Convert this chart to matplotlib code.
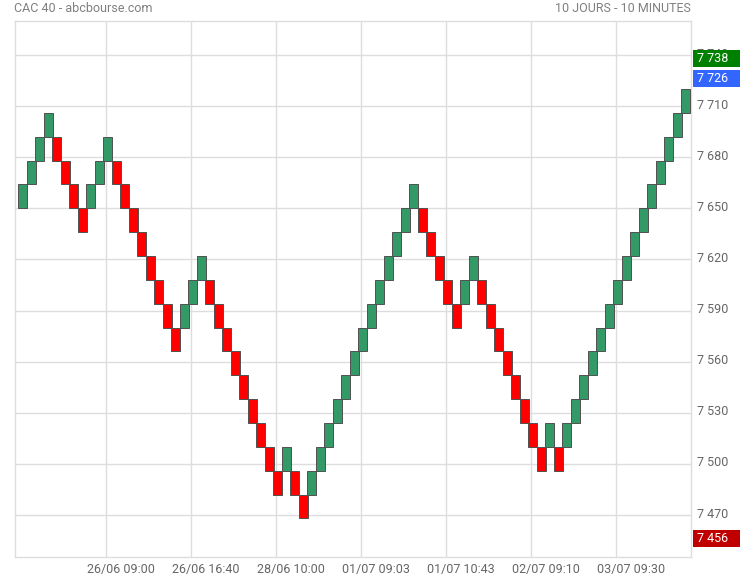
import matplotlib
matplotlib.use("Agg")
import matplotlib.pyplot as plt
from matplotlib.patches import Rectangle
from matplotlib.transforms import blended_transform_factory, ScaledTranslation

plt.rcParams['font.family'] = ['Roboto', 'DejaVu Sans']

# ---- data ----
brick_size = 14
brick_low = [7650, 7664, 7678, 7692, 7678, 7664, 7650, 7636, 7650, 7664,
             7678, 7664, 7650, 7636, 7622, 7608, 7594, 7580, 7566, 7580,
             7594, 7608, 7594, 7580, 7566, 7552, 7538, 7524, 7510, 7496,
             7482, 7496, 7482, 7468, 7482, 7496, 7510, 7524, 7538, 7552,
             7566, 7580, 7594, 7608, 7622, 7636, 7650, 7636, 7622, 7608,
             7594, 7580, 7594, 7608, 7594, 7580, 7566, 7552, 7538, 7524,
             7510, 7496, 7510, 7496, 7510, 7524, 7538, 7552, 7566, 7580,
             7594, 7608, 7622, 7636, 7650, 7664, 7678, 7692, 7706]
brick_dir = ['U', 'U', 'U', 'U', 'D', 'D', 'D', 'D', 'U', 'U',
             'U', 'D', 'D', 'D', 'D', 'D', 'D', 'D', 'D', 'U',
             'U', 'U', 'D', 'D', 'D', 'D', 'D', 'D', 'D', 'D',
             'D', 'U', 'D', 'D', 'U', 'U', 'U', 'U', 'U', 'U',
             'U', 'U', 'U', 'U', 'U', 'U', 'U', 'D', 'D', 'D',
             'D', 'D', 'U', 'U', 'D', 'D', 'D', 'D', 'D', 'D',
             'D', 'D', 'U', 'D', 'U', 'U', 'U', 'U', 'U', 'U',
             'U', 'U', 'U', 'U', 'U', 'U', 'U', 'U', 'U']
y_ticks = [7470, 7500, 7530, 7560, 7590, 7620, 7650, 7680, 7710, 7740]
x_tick_pos = [9.85, 19.85, 29.85, 39.85, 49.85, 59.85, 69.85]
x_tick_labels = ['26/06 09:00', '26/06 16:40', '28/06 10:00', '01/07 09:03',
                 '01/07 10:43', '02/07 09:10', '03/07 09:30']
price_high = 7738
price_last = 7726
price_low = 7456
title_left = 'CAC 40 - abcbourse.com'
title_right = '10 JOURS - 10 MINUTES'

# ---- figure ----
W, H = 740, 580
fig = plt.figure(figsize=(W / 100, H / 100), dpi=100)
ax = fig.add_axes([14.5 / W, 1 - 557 / H, (691 - 14.5) / W, (557 - 21) / H])

GREEN = '#339966'
RED = '#ff0000'
for i, (lo, d) in enumerate(zip(brick_low, brick_dir)):
    ax.add_patch(Rectangle((i - 0.53, lo), 1.06, brick_size,
                           facecolor=GREEN if d == 'U' else RED,
                           edgecolor='#505050', linewidth=0.7, zorder=3))

ax.set_xlim(-0.965, 78.62)
ax.set_ylim(7445.35, 7759.96)

ax.set_yticks(y_ticks)
ax.set_yticklabels([f"{v // 1000} {v % 1000:03d}" for v in y_ticks])
ax.yaxis.tick_right()
ax.tick_params(axis='y', length=0, pad=4, labelsize=9, labelcolor='#666666')
up = ScaledTranslation(0, 2.5 / 100, fig.dpi_scale_trans)
for lab in ax.get_yticklabels():
    lab.set_transform(lab.get_transform() + up)
ax.set_xticks(x_tick_pos)
ax.set_xticklabels([])
ax.tick_params(axis='x', length=0)
ax.grid(True, color='#dddddd', linewidth=1, zorder=0)
ax.set_axisbelow(True)
for s in ax.spines.values():
    s.set_color('#dddddd')
    s.set_linewidth(1)

# x labels offset right of gridlines
off = ScaledTranslation(14.3 / 100, 0, fig.dpi_scale_trans)
tr = blended_transform_factory(ax.transData, fig.transFigure) + off
for xp, lab in zip(x_tick_pos, x_tick_labels):
    ax.text(xp, 1 - 570 / H, lab, transform=tr, ha='center', va='center',
            fontsize=9, color='#666666', clip_on=False)

fig.text(14 / W, 1 - 9 / H, title_left, ha='left', va='center',
         fontsize=9, color='#808080')
fig.text(691 / W, 1 - 9 / H, title_right, ha='right', va='center',
         fontsize=9, color='#808080')

# price boxes
btr = blended_transform_factory(fig.transFigure, ax.transData)
box_h = 17 / 1.7037
for val, col in [(price_high, '#008000'), (price_last, '#3366ff'), (price_low, '#c00000')]:
    r = Rectangle((693 / W, val - box_h / 2), 1 - 693 / W, box_h, transform=btr,
                  facecolor=col, edgecolor='none', clip_on=False, zorder=10)
    fig.patches.append(r)
    r.set_figure(fig)
    fig.text(697 / W, val, f"{val // 1000} {val % 1000:03d}", transform=btr,
             ha='left', va='center', fontsize=9, color='white', zorder=11)

fig.savefig('out.png', dpi=100)
